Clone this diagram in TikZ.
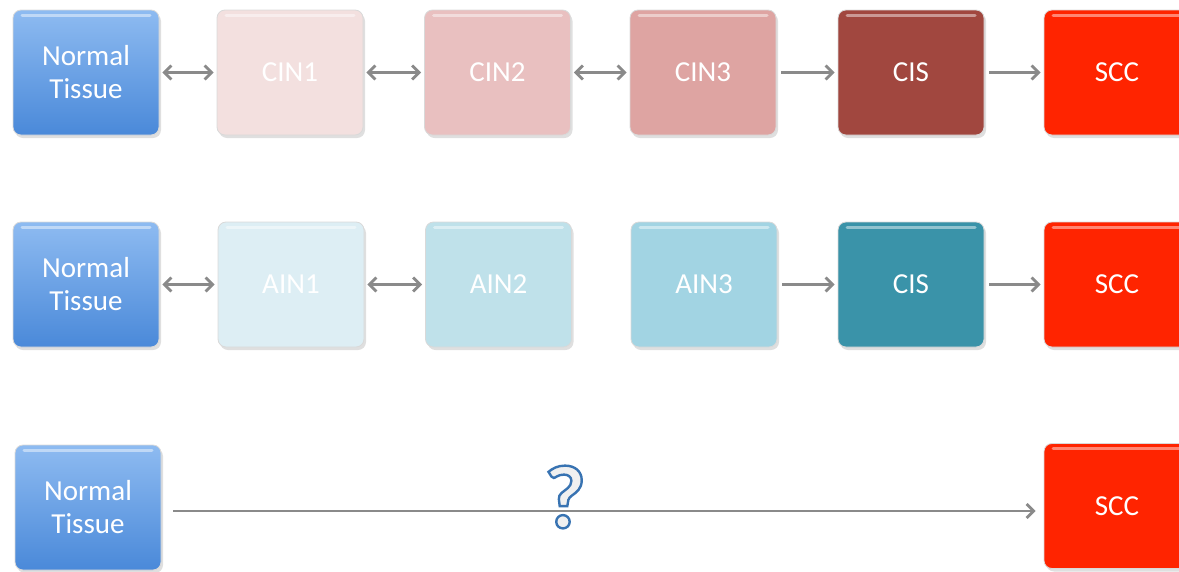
\documentclass[tikz,border=0pt]{standalone}
\usepackage{fontspec}
\setmainfont{Carlito}
\usepackage{tikz}
\usetikzlibrary{positioning,arrows.meta,shadows}
\definecolor{tissueTop}{HTML}{8EBBF1}
\definecolor{tissueBot}{HTML}{4A89D9}
\definecolor{cinA}{HTML}{F3E0DF}
\definecolor{cinB}{HTML}{E9C0C0}
\definecolor{cinC}{HTML}{DEA4A2}
\definecolor{cisR}{HTML}{A1473F}
\definecolor{sccR}{HTML}{FF2400}
\definecolor{ainA}{HTML}{DDEEF4}
\definecolor{ainB}{HTML}{BFE1EA}
\definecolor{ainC}{HTML}{A2D4E3}
\definecolor{cisB}{HTML}{3A93A9}
\definecolor{arrowGrey}{HTML}{8A8A8A}
\def\hollowq{\special{pdf:literal direct 2 Tr 2.4 w 0.94 0.94 0.94 rg 0.22 0.45 0.70 RG}?\special{pdf:literal direct 0 Tr}}

\begin{document}
\begin{tikzpicture}[>={Straight Barb[length=7pt,width=14pt]}, stage/.style={rounded corners=8pt, minimum width=146pt, minimum height=125pt, text=white, font=\fontsize{29}{33}\selectfont, align=center, draw=white!85!black, line width=0.8pt, drop shadow={opacity=0.25, shadow xshift=2pt, shadow yshift=-3pt}, path picture={\draw[white, opacity=0.45, line width=3pt, line cap=round] ([xshift=9pt,yshift=-5pt]path picture bounding box.north west) -- ([xshift=-9pt,yshift=-5pt]path picture bounding box.north east);}}, tissue/.style={stage, top color=tissueTop, bottom color=tissueBot}, link/.style={draw=arrowGrey, line width=2.8pt, shorten >=3pt, shorten <=3pt}]
		\useasboundingbox (0pt, 0pt) rectangle (1179pt, -571pt);
		% first row
		\draw (86.0pt, -72.5pt)node[tissue](t1){Normal\\Tissue};
		\draw (290.0pt, -72.5pt)node[stage, fill=cinA](c1){CIN1};
		\draw (497.5pt, -72.5pt)node[stage, fill=cinB](c2){CIN2};
		\draw (703.0pt, -72.5pt)node[stage, fill=cinC](c3){CIN3};
		\draw (911.0pt, -72.5pt)node[stage, fill=cisR](c4){CIS};
		\draw (1117.0pt, -72.5pt)node[stage, fill=sccR](c5){SCC};
		% second row
		\draw (86.0pt, -284.5pt)node[tissue](t2){Normal\\Tissue};
		\draw (291.0pt, -284.5pt)node[stage, fill=ainA](a1){AIN1};
		\draw (498.5pt, -284.5pt)node[stage, fill=ainB](a2){AIN2};
		\draw (704.0pt, -284.5pt)node[stage, fill=ainC](a3){AIN3};
		\draw (911.0pt, -284.5pt)node[stage, fill=cisB](a4){CIS};
		\draw (1117.0pt, -284.5pt)node[stage, fill=sccR](a5){SCC};
		% third row
		\draw (88.0pt, -507.5pt)node[tissue](t3){Normal\\Tissue};
		\draw (1117.0pt, -506.0pt)node[stage, fill=sccR](s3){SCC};
		\path[<->] (t1) edge[link] (c1);
		\path[<->] (c1) edge[link] (c2);
		\path[<->] (c2) edge[link] (c3);
		\path[->] (c3) edge[link, shorten <=5pt] (c4);
		\path[->] (c4) edge[link, shorten <=5pt] (c5);
		\path[<->] (t2) edge[link] (a1);
		\path[<->] (a1) edge[link] (a2);
		\path[->] (a3) edge[link, shorten <=5pt] (a4);
		\path[->] (a4) edge[link, shorten <=5pt] (a5);
		\path[->] (t3.east |- 0,-511pt) edge[link, shorten <=12pt, shorten >=8pt] (s3.west |- 0,-511pt);
		\draw (565.0pt, -497.0pt)node(q){\fontsize{90}{90}\selectfont\bfseries\hollowq};
		\end{tikzpicture}
\end{document}
